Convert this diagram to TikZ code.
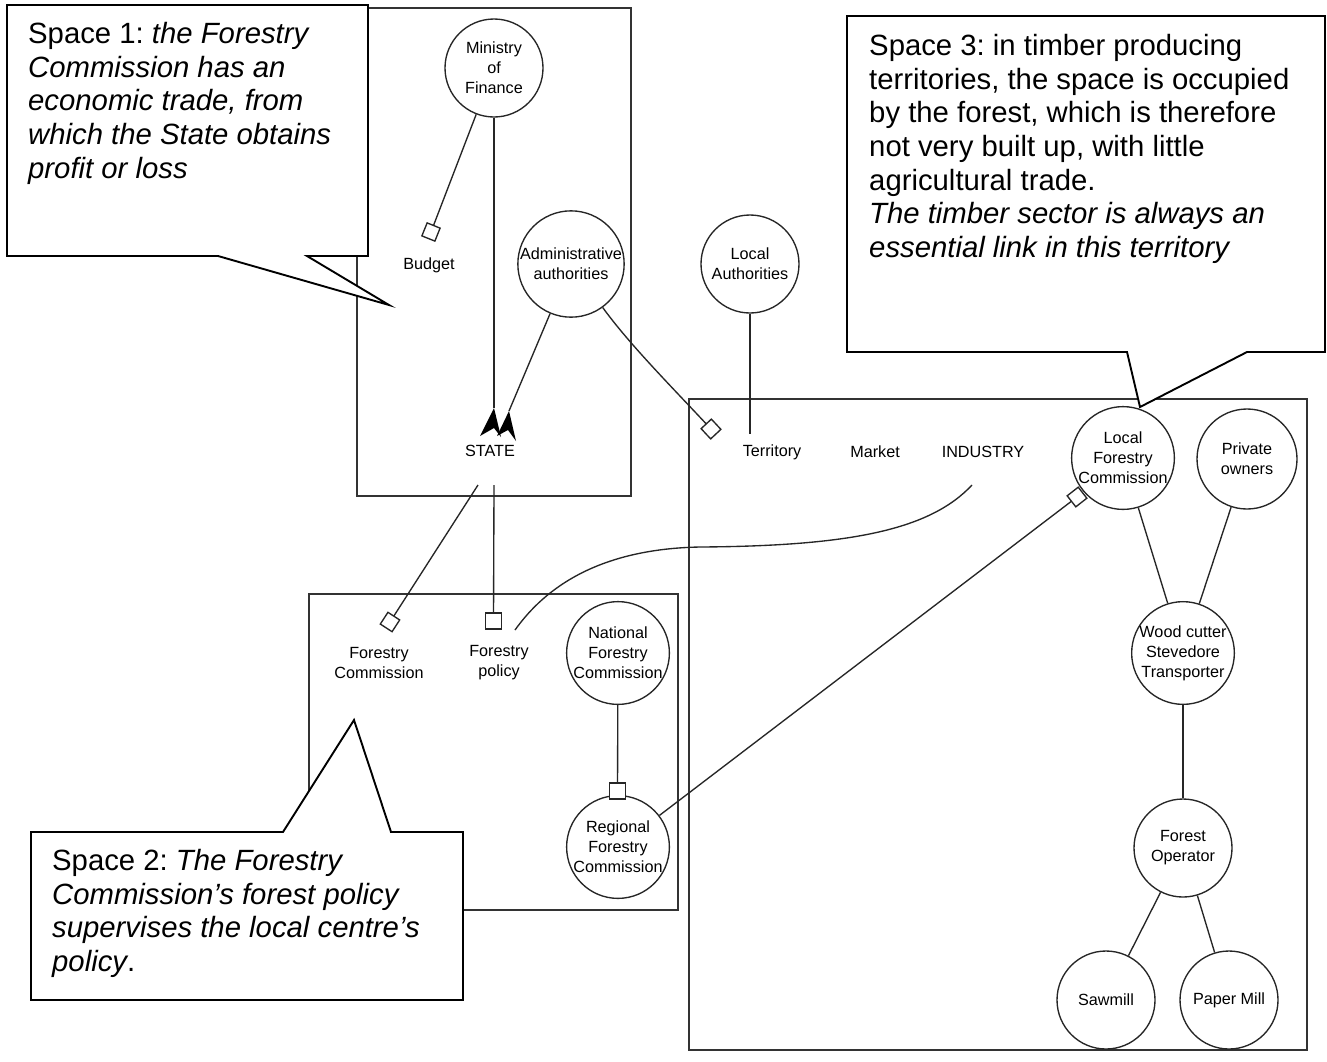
\documentclass[tikz,border=0pt]{standalone}
\usepackage{fontspec}
\setmainfont{Liberation Sans}
\frenchspacing
\newcommand{\lblfont}{\fontsize{16.2}{20}\selectfont}
\begin{document}
\begin{tikzpicture}[x=1pt,y=-1pt,
  ent/.style={circle,draw=black!85,line width=1.35pt,minimum size=98pt,inner sep=0pt,align=center,font=\lblfont},
  lab/.style={align=center,font=\lblfont,inner sep=1pt},
  frame/.style={draw=black!80,line width=1.4pt},
  link/.style={draw=black!85,line width=1.35pt},
  sqbox/.style={draw=black!85,line width=1.35pt,minimum size=15pt,inner sep=0pt,fill=white},
  callout/.style={draw=black,line width=1.9pt,fill=white,line join=miter},
  ctext/.style={align=left,inner sep=0pt,anchor=north west,font=\fontsize{29.3}{33.7}\selectfont}]
\useasboundingbox (0,0) rectangle (1327,1061);
\fill[white] (0,0) rectangle (1327,1061);

% frames
\draw[frame] (357,8) rectangle (631,496);
\draw[frame] (309,594) rectangle (678,910);
\draw[frame] (689,399) rectangle (1307,1050);

% entities
\node[ent] (min) at (494,68) {Ministry\\of\\Finance};
\node[ent] (adm) at (571,264) {Administrative\\authorities};
\node[ent] (lauth) at (750,264) {Local\\Authorities};
\node[ent,minimum size=100pt] (nfc) at (618,653) {National\\Forestry\\Commission};
\node[ent,minimum size=100pt] (rfc) at (618,847) {Regional\\Forestry\\Commission};
\node[ent,minimum size=100pt] (lfc) at (1123,458) {Local\\Forestry\\Commission};
\node[ent,minimum size=100pt] (po) at (1247,459) {Private\\owners};
\node[ent,minimum size=100pt] (wc) at (1183,653) {Wood cutter\\Stevedore\\Transporter};
\node[ent] (fo) at (1183,848) {Forest\\Operator};
\node[ent] (saw) at (1106,1000) {Sawmill};
\node[ent] (pm) at (1229,1000) {Paper Mill};

% plain labels
\node[lab] (budget) at (429,265) {Budget};
\node[lab] (state) at (490,451) {STATE};
\node[lab] (terr) at (772,452) {Territory};
\node[lab] (market) at (875,452) {Market};
\node[lab] (ind) at (983,452) {INDUSTRY};
\node[lab] (fc) at (379,663) {Forestry\\Commission};
\node[lab] (fp) at (499,663) {Forestry\\policy};

% anchor points
\coordinate (stA) at (494,408);
\coordinate (stB) at (509,411);
\coordinate (stC) at (478,485);
\coordinate (stD) at (494,485);
\coordinate (terrTop) at (750,434);
\coordinate (indEnd) at (972,485);
\coordinate (fpEnd) at (515,630);

% connectors
\draw[link] (min) -- (431,232);
\draw[link] (min.south) -- (stA);
\draw[link] (adm) -- (stB);
\draw[link] (adm) .. controls (630,345) and (670,385) .. (711,429);
\draw[link] (lauth) -- (terrTop);
\draw[link] (stC) -- (390,622);
\draw[link] (stD) -- (493.5,621);
\draw[link] (nfc) -- (617.5,791);
\draw[link] (rfc) -- (1077,497);
\draw[link] (lfc) -- (wc);
\draw[link] (po) -- (wc);
\draw[link] (wc) -- (fo);
\draw[link] (fo) -- (saw);
\draw[link] (fo) -- (pm);
\draw[link] (indEnd) .. controls (930,530) and (850,546) .. (700,547)
                     .. controls (590,549) and (540,595) .. (fpEnd);

% end squares
\node[sqbox,minimum size=14pt,rotate=-22] (budsq) at (431,232) {};
\node[sqbox,minimum size=14pt,rotate=57] (fcsq) at (390,622) {};
\node[sqbox,minimum size=16pt] (fpsq) at (493.5,621) {};
\node[sqbox,minimum size=16pt] (rfcsq) at (617.5,791) {};
\node[sqbox,minimum size=14pt,rotate=43] (tersq) at (711,429) {};
\node[sqbox,minimum size=14pt,rotate=38] (lfcsq) at (1077,497) {};

% arrowheads at STATE
\fill[black] (stA) -- ++(-14,28) -- ++(14,-8) -- ++(7,9) -- cycle;
\fill[black] (stB) -- ++(-12,25) -- ++(11,-6) -- ++(8,11) -- cycle;

% callouts
\draw[callout] (7,5) -- (368,5) -- (368,256) -- (307,256) -- (389,305) -- (218,256) -- (7,256) -- cycle;
\node[ctext] (c1) at (28,22) {Space 1: \textit{the Forestry}\\\textit{Commission has an}\\\textit{economic trade, from}\\\textit{which the State obtains}\\\textit{profit or loss}};

\draw[callout] (31,832) -- (283,832) -- (354,720) -- (391,832) -- (463,832) -- (463,1000) -- (31,1000) -- cycle;
\node[ctext] (c2) at (52,849) {Space 2: \textit{The Forestry}\\\textit{Commission’s forest policy}\\\textit{supervises the local centre’s}\\\textit{policy}.};

\draw[callout] (847,16) -- (1325,16) -- (1325,352) -- (1247,352) -- (1140,407) -- (1127,352) -- (847,352) -- cycle;
\node[ctext] (c3) at (869,34) {Space 3: in timber producing\\territories, the space is occupied\\by the forest, which is therefore\\not very built up, with little\\agricultural trade.\\\textit{The timber sector is always an}\\\textit{essential link in this territory}};
\end{tikzpicture}
\end{document}
